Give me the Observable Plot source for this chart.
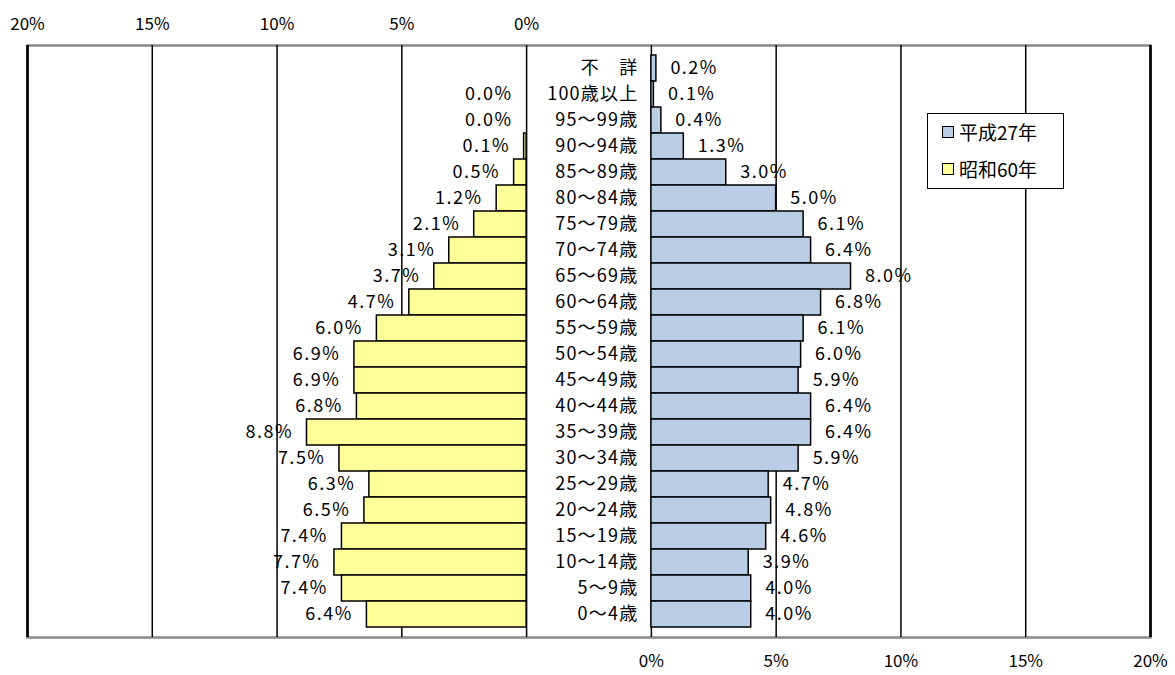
<!DOCTYPE html>
<html>
<head>
<meta charset="utf-8">
<script src="https://cdn.jsdelivr.net/npm/d3@7"></script>
<script src="https://cdn.jsdelivr.net/npm/@observablehq/plot@0.6"></script>
<style>
  html, body { margin: 0; padding: 0; background: #fff; }
  #wrap { position: relative; width: 1175px; height: 675px; }
  #legend {
    position: absolute; left: 927px; top: 113px; width: 135px; height: 74px;
    border: 1.5px solid #000; background: #fff;
    font-family: "Noto Sans CJK JP", sans-serif; font-size: 19px; color: #000;
  }
  .item { position: absolute; left: 14px; display: flex; align-items: center; }
  .sw { width: 10px; height: 10px; border: 1px solid #000; margin-right: 5px; }
</style>
</head>
<body>
<div id="wrap">
  <div id="chart"></div>
  <div id="legend"></div>
</div>
<script>
// Age categories, top to bottom
const categories = ["不　詳", "100歳以上", "95～99歳", "90～94歳", "85～89歳", "80～84歳", "75～79歳",
  "70～74歳", "65～69歳", "60～64歳", "55～59歳", "50～54歳", "45～49歳", "40～44歳", "35～39歳",
  "30～34歳", "25～29歳", "20～24歳", "15～19歳", "10～14歳", "5～9歳", "0～4歳"];

// 昭和60年 (left side); null = no value shown (不詳)
const showa60 = [null, 0.0, 0.0, 0.1, 0.5, 1.2, 2.1, 3.1, 3.7, 4.7, 6.0, 6.9, 6.9, 6.8, 8.8,
  7.5, 6.3, 6.5, 7.4, 7.7, 7.4, 6.4];

// 平成27年 (right side)
const heisei27 = [0.2, 0.1, 0.4, 1.3, 3.0, 5.0, 6.1, 6.4, 8.0, 6.8, 6.1, 6.0, 5.9, 6.4, 6.4,
  5.9, 4.7, 4.8, 4.6, 3.9, 4.0, 4.0];

const seriesNames = ["平成27年", "昭和60年"];
const seriesColors = ["#B9CDE5", "#FFFF99"];

const leftTicks = [20, 15, 10, 5, 0];
const rightTicks = [0, 5, 10, 15, 20];

// left panel is drawn on the shared x scale shifted by a 5-point gap: position = -GAP - value
const GAP = 5;

const leftData = categories.map((c, i) => ({cat: c, v: showa60[i]})).filter(d => d.v != null);
const rightData = categories.map((c, i) => ({cat: c, v: heisei27[i]}));

const font = `"Noto Sans CJK JP", sans-serif`;

const chart = Plot.plot({
  width: 1175,
  height: 675,
  marginTop: 45,
  marginBottom: 38,
  marginLeft: 27,
  marginRight: 25,
  style: {fontFamily: font, fontSize: "18px", color: "#000", background: "#fff"},
  x: {domain: [-GAP - 20, 20]},
  y: {domain: categories, padding: 0, axis: null},
  marks: [
    Plot.frame({stroke: "#888", strokeWidth: 2.5}),
    Plot.ruleX(leftTicks.map(t => -GAP - t), {stroke: "#000", strokeWidth: 1.5}),
    Plot.ruleX(rightTicks, {stroke: "#000", strokeWidth: 1.5}),
    Plot.ruleX([-GAP - 20, 20], {stroke: "#000", strokeWidth: 2.5}),
    Plot.barX(leftData, {y: "cat", x1: -GAP, x2: d => -GAP - d.v, fill: seriesColors[1], stroke: "#000", strokeWidth: 1.5}),
    Plot.barX(rightData, {y: "cat", x1: 0, x2: d => d.v, fill: seriesColors[0], stroke: "#000", strokeWidth: 1.5}),
    Plot.text(leftData, {y: "cat", x: d => -GAP - d.v, text: d => d.v.toFixed(1) + "%", textAnchor: "end", dx: -14, fontSize: 18, fill: "#000", className: "vlab"}),
    Plot.text(rightData, {y: "cat", x: d => d.v, text: d => d.v.toFixed(1) + "%", textAnchor: "start", dx: 14, fontSize: 18, fill: "#000", className: "vlab"}),
    Plot.text(categories, {y: d => d, x: 0, text: d => d, textAnchor: "end", dx: -13, fontSize: 18, fill: "#000", className: "clab"}),
    Plot.axisX(leftTicks.map(t => -GAP - t), {anchor: "top", tickSize: 0, tickPadding: 16, tickFormat: d => `${-GAP - d}%`, fontSize: 17}),
    Plot.axisX(rightTicks, {anchor: "bottom", tickSize: 0, tickPadding: 17, tickFormat: d => `${d}%`, fontSize: 17})
  ]
});
chart.querySelectorAll("g.vlab text").forEach(t => t.setAttribute("letter-spacing", "1.5"));
chart.querySelectorAll("g.clab text").forEach(t => t.setAttribute("letter-spacing", "1.2"));
document.getElementById("chart").appendChild(chart);

const legend = document.getElementById("legend");
seriesNames.forEach((name, i) => {
  const item = document.createElement("div");
  item.className = "item";
  item.style.top = (i === 0 ? 4 : 41) + "px";
  const sw = document.createElement("div");
  sw.className = "sw";
  sw.style.background = seriesColors[i];
  const label = document.createElement("span");
  label.textContent = name;
  item.appendChild(sw);
  item.appendChild(label);
  legend.appendChild(item);
});
</script>
</body>
</html>
